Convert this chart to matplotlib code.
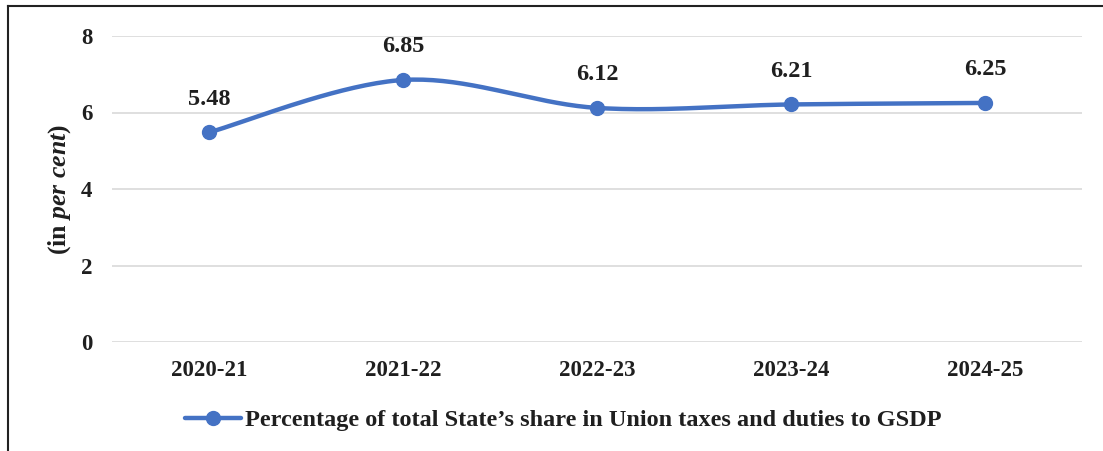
import numpy as np
import matplotlib
matplotlib.use("Agg")
from matplotlib import pyplot as plt
from matplotlib.lines import Line2D

years = ["2020-21", "2021-22", "2022-23", "2023-24", "2024-25"]
share_pct = [5.48, 6.85, 6.12, 6.21, 6.25]
series_name = "Percentage of total State\u2019s share in Union taxes and duties to GSDP"
y_ticks = [0, 2, 4, 6, 8]

plt.rcParams['font.family'] = ['Liberation Serif', 'DejaVu Serif']
plt.rcParams['font.weight'] = 'bold'
plt.rcParams['axes.labelweight'] = 'bold'
plt.rcParams['mathtext.fontset'] = 'custom'
plt.rcParams['mathtext.rm'] = 'Liberation Serif:bold'
plt.rcParams['mathtext.it'] = 'Liberation Serif:bold:italic'

line_color = '#4472C4'
text_color = '#1f1f1f'
grid_color = '#D9D9D9'
fs = 16.5
fs_big = 17.5


def smooth_curve(xs, ys, steps=40):
    # catmull-rom style bezier, like the office "smoothed line"
    xs = np.asarray(xs, float)
    ys = np.asarray(ys, float)
    px = np.concatenate([[xs[0]], xs, [xs[-1]]])
    py = np.concatenate([[ys[0]], ys, [ys[-1]]])
    out_x, out_y = [], []
    t = np.linspace(0, 1, steps)
    for i in range(1, len(px) - 2):
        p0 = np.array([px[i], py[i]])
        p3 = np.array([px[i + 1], py[i + 1]])
        c1 = p0 + (np.array([px[i + 1], py[i + 1]]) - np.array([px[i - 1], py[i - 1]])) / 6
        c2 = p3 - (np.array([px[i + 2], py[i + 2]]) - np.array([px[i], py[i]])) / 6
        b = ((1 - t) ** 3)[:, None] * p0 + (3 * (1 - t) ** 2 * t)[:, None] * c1 \
            + (3 * (1 - t) * t ** 2)[:, None] * c2 + (t ** 3)[:, None] * p3
        out_x.extend(b[:, 0])
        out_y.extend(b[:, 1])
    return out_x, out_y


fig = plt.figure(figsize=(11.03, 4.51), dpi=100)
ax = fig.add_axes([112 / 1103, 1 - 342 / 451, 970 / 1103, 306 / 451])

x = np.arange(len(years))
cx, cy = smooth_curve(x, share_pct)
ax.plot(cx, cy, color=line_color, linewidth=3.2, solid_capstyle='round', zorder=3)
ax.plot(x, share_pct, 'o', color=line_color, markersize=10, zorder=4)

for xi, v in zip(x, share_pct):
    ax.annotate(f"{v:.2f}", (xi, v), xytext=(0, 24), textcoords='offset points',
                ha='center', va='center', fontsize=fs_big, fontweight='bold', color=text_color)

ax.set_xlim(-0.5, len(years) - 0.5)
ax.set_ylim(0, 8)
ax.set_xticks(x)
ax.set_xticklabels(years)
ax.set_yticks(y_ticks)
ax.tick_params(axis='both', length=0, labelsize=fs, colors=text_color)
ax.tick_params(axis='y', pad=14)
ax.tick_params(axis='x', pad=13)
for lab in ax.get_xticklabels() + ax.get_yticklabels():
    lab.set_fontweight('bold')
ax.grid(axis='y', color=grid_color, linewidth=1.2)
ax.set_axisbelow(True)
for s in ax.spines.values():
    s.set_visible(False)

ax.set_ylabel(r"(in $\it{per\ cent}$)", fontsize=18.5, fontweight='bold', color=text_color)
ax.yaxis.set_label_coords(-39 / 970, 0.5)

handle = Line2D([], [], color=line_color, linewidth=3.2, marker='o', markersize=10,
                solid_capstyle='round')
fig.legend([handle], [series_name], loc='center', bbox_to_anchor=(563 / 1103, 1 - 420 / 451),
           frameon=False, fontsize=fs_big, handlelength=2.3, handletextpad=0.15,
           labelcolor=text_color)

# frame of the page box, only top and left edges visible
fig.add_artist(Line2D([8 / 1103, 1], [1 - 6 / 451, 1 - 6 / 451], color='#222222', linewidth=1.5))
fig.add_artist(Line2D([8 / 1103, 8 / 1103], [0, 1 - 6 / 451], color='#222222', linewidth=1.5))

fig.savefig("out.png", dpi=100)
